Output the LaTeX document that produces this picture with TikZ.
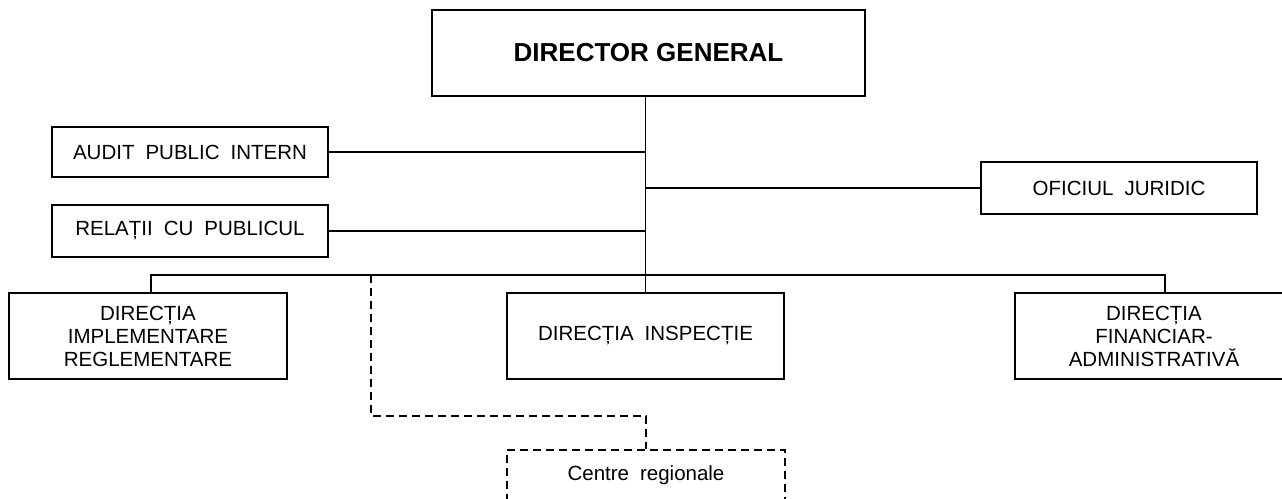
\documentclass[tikz,border=0pt]{standalone}
\usepackage{fontspec}
\setmainfont{Liberation Sans}
\newcommand\orgfont{\fontsize{20.5}{23}\selectfont\spaceskip 11pt\relax}
\newcommand\dgfont{\fontsize{26}{30}\selectfont\bfseries}
\begin{document}
\begin{tikzpicture}[x=1pt,y=-1pt,
  orgbox/.style={draw, line width=1.8pt, rectangle, inner sep=0pt, align=center, font=\orgfont},
  dashbox/.style={orgbox, dash pattern=on 8pt off 5pt},
  link/.style={line width=1.8pt},
  dlink/.style={line width=1.8pt, dash pattern=on 8pt off 5pt}]
\useasboundingbox (0,0) rectangle (1282,498);
\clip (0,0) rectangle (1282,498);
\node[orgbox, minimum width=433pt, minimum height=86pt, font=\dgfont] (dg) at (648.5,53) {DIRECTOR GENERAL};
\node[orgbox, minimum width=276pt, minimum height=50pt] (audit) at (190,152) {AUDIT PUBLIC INTERN};
\node[orgbox, minimum width=276pt, minimum height=52pt] (relatii) at (190,231) {RELAȚII CU PUBLICUL};
\node[orgbox, minimum width=276pt, minimum height=52pt] (oficiul) at (1119,188) {OFICIUL JURIDIC};
\node[orgbox, minimum width=278pt, minimum height=86pt] (impl) at (148,336) {DIRECȚIA\\IMPLEMENTARE\\REGLEMENTARE};
\node[orgbox, minimum width=277pt, minimum height=86pt] (insp) at (645.5,336) {DIRECȚIA INSPECȚIE};
\node[orgbox, minimum width=278pt, minimum height=86pt] (fin) at (1154,336) {DIRECȚIA\\FINANCIAR-\\ADMINISTRATIVĂ};
\node[dashbox, minimum width=278pt, minimum height=50pt] (cr) at (646,475) {Centre regionale};
% trunk and side links
\draw[link] (insp.north |- dg.south) -- (insp.north);
\draw[link] (audit.east) -- (audit.east -| insp.north);
\draw[link] (relatii.east) -- (relatii.east -| insp.north);
\draw[link] (oficiul.west) -- (oficiul.west -| insp.north);
% bus
\coordinate (b1) at (151,275);
\coordinate (b2) at (1165,275);
\draw[link] (b1 |- impl.north) -- (b1) -- (b2) -- (b2 |- fin.north);
% dashed link to regional centres
\coordinate (d1) at (371,275);
\coordinate (d2) at (371,416);
\coordinate (d3) at (cr.north |- d2);
\draw[dlink] (d1) -- (d2) -- (d3) -- (cr.north);
\end{tikzpicture}
\end{document}
